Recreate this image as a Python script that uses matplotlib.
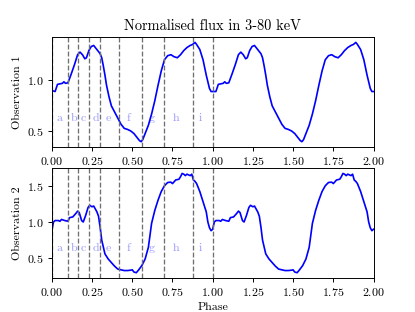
import numpy as np
import matplotlib
matplotlib.use("Agg")
import matplotlib.pyplot as plt

plt.rcParams['font.family'] = 'serif'
plt.rcParams['font.serif'] = ['cmr10', 'DejaVu Serif']
plt.rcParams['mathtext.fontset'] = 'cm'
plt.rcParams['axes.formatter.use_mathtext'] = True

# Observation 1, one period (phase, normalised flux)
phase1 = [0.00, 0.02, 0.035, 0.05, 0.065, 0.075, 0.085, 0.10, 0.12, 0.14, 0.16, 0.175,
          0.19, 0.205, 0.215, 0.23, 0.245, 0.26, 0.275, 0.29, 0.30, 0.31, 0.32, 0.33,
          0.34, 0.355, 0.37, 0.39, 0.41, 0.43, 0.45, 0.47, 0.49, 0.51, 0.53, 0.545,
          0.555, 0.565, 0.58, 0.60, 0.62, 0.64, 0.66, 0.68, 0.70, 0.72, 0.74, 0.76,
          0.78, 0.80, 0.82, 0.84, 0.86, 0.875, 0.89, 0.90, 0.92, 0.94, 0.96, 0.98,
          0.99, 1.00]
flux1 = [0.90, 0.89, 0.96, 0.965, 0.97, 0.985, 0.97, 0.975, 1.06, 1.15, 1.25, 1.275,
         1.25, 1.21, 1.22, 1.29, 1.33, 1.34, 1.31, 1.28, 1.26, 1.22, 1.14, 1.05,
         0.95, 0.84, 0.75, 0.69, 0.63, 0.57, 0.53, 0.52, 0.505, 0.48, 0.44, 0.41,
         0.40, 0.42, 0.48, 0.56, 0.67, 0.80, 0.95, 1.09, 1.20, 1.24, 1.25, 1.23,
         1.22, 1.25, 1.29, 1.32, 1.34, 1.35, 1.37, 1.35, 1.30, 1.20, 1.05, 0.92,
         0.89, 0.89]

# Observation 2, one period
phase2 = [0.00, 0.01, 0.02, 0.04, 0.05, 0.06, 0.08, 0.10, 0.11, 0.13, 0.15, 0.16,
          0.17, 0.185, 0.195, 0.21, 0.225, 0.235, 0.25, 0.26, 0.28, 0.29, 0.30, 0.31,
          0.33, 0.35, 0.37, 0.39, 0.41, 0.43, 0.45, 0.47, 0.49, 0.50, 0.51, 0.525,
          0.54, 0.56, 0.58, 0.60, 0.62, 0.64, 0.66, 0.68, 0.70, 0.72, 0.74, 0.75,
          0.77, 0.79, 0.80, 0.81, 0.82, 0.83, 0.84, 0.86, 0.87, 0.88, 0.89, 0.90,
          0.92, 0.94, 0.96, 0.97, 0.98, 0.99, 1.00]
flux2 = [0.88, 1.00, 1.02, 1.02, 1.01, 1.035, 1.02, 1.01, 1.06, 1.07, 1.12, 1.15,
         1.13, 1.02, 1.00, 1.09, 1.20, 1.23, 1.21, 1.22, 1.14, 1.08, 0.93, 0.75,
         0.56, 0.49, 0.44, 0.39, 0.35, 0.34, 0.33, 0.33, 0.335, 0.34, 0.31, 0.30,
         0.34, 0.40, 0.49, 0.65, 0.98, 1.16, 1.30, 1.42, 1.50, 1.545, 1.55, 1.53,
         1.58, 1.59, 1.625, 1.67, 1.66, 1.64, 1.66, 1.64, 1.66, 1.58, 1.56, 1.53,
         1.42, 1.28, 1.14, 1.00, 0.92, 0.88, 0.90]

boundaries = [0.0, 0.1, 0.16, 0.23, 0.3, 0.42, 0.56, 0.7, 0.88, 1.0]
labels = ['a', 'b', 'c', 'd', 'e', 'f', 'g', 'h', 'i']
label_x = [0.048, 0.139, 0.197, 0.272, 0.352, 0.473, 0.622, 0.773, 0.925]
label_y = 0.6

DPI = 415 / 4.8
fig, axes = plt.subplots(2, 1, figsize=(4.8, 312 / DPI), dpi=DPI)

for ax, ph, fl, name in [(axes[0], phase1, flux1, 'Observation 1'),
                         (axes[1], phase2, flux2, 'Observation 2')]:
    ph = np.asarray(ph)
    fl = np.asarray(fl)
    x = np.concatenate([ph, ph[1:] + 1.0])
    y = np.concatenate([fl, fl[1:]])
    ax.plot(x, y, color='blue', lw=1.4)
    for b in boundaries:
        ax.axvline(b, color='#707070', ls='--', lw=1.1)
    for lx, lab in zip(label_x, labels):
        ax.text(lx, label_y, lab, color='blue', alpha=0.4, ha='center')
    ax.set_xlim(0, 2)
    ax.set_ylabel(name)

axes[0].set_title('Normalised flux in 3-80 keV')
axes[1].set_xlabel('Phase')

fig.savefig('out.png', dpi=DPI)
